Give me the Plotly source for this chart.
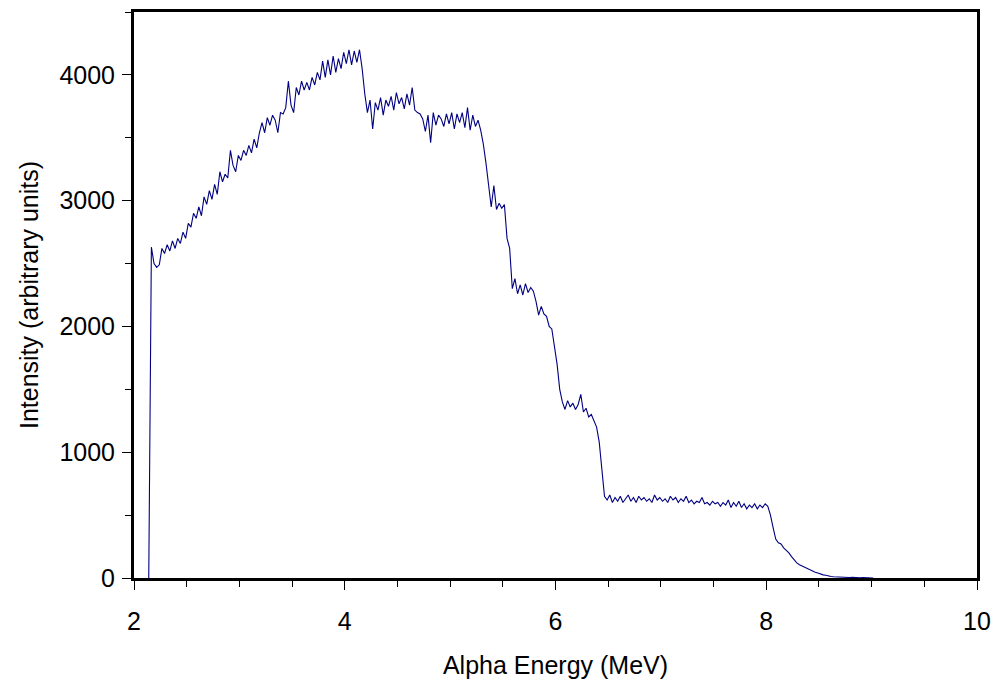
import plotly.graph_objects as go

# Channel calibration (MeV)
energy_start = 2.14
energy_step = 0.025

intensity = [
    0, 2630, 2500, 2470, 2490, 2620, 2580, 2650, 2600, 2680,
    2620, 2700, 2660, 2750, 2700, 2820, 2790, 2900, 2860, 2950,
    2880, 3030, 2970, 3080, 3010, 3130, 3050, 3230, 3150, 3210,
    3180, 3400, 3280, 3230, 3360, 3320, 3400, 3360, 3440, 3380,
    3490, 3420, 3540, 3620, 3540, 3660, 3600, 3680, 3640, 3540,
    3700, 3690, 3740, 3950, 3760, 3700, 3900, 3840, 3950, 3880,
    3940, 3880, 3980, 3920, 4020, 3960, 4110, 3980, 4120, 4000,
    4150, 4020, 4130, 4050, 4180, 4090, 4200, 4080, 4190, 4100,
    4200, 4050, 3850, 3700, 3800, 3570, 3780, 3720, 3820, 3680,
    3800, 3750, 3830, 3720, 3860, 3770, 3820, 3730, 3850, 3760,
    3900, 3720, 3700, 3690, 3650, 3550, 3680, 3460, 3700, 3600,
    3680, 3650, 3590, 3690, 3610, 3700, 3570, 3690, 3620, 3700,
    3580, 3740, 3560, 3680, 3590, 3640, 3560, 3450, 3300, 3100,
    2950, 3120, 2930, 2980, 2940, 2970, 2700, 2620, 2300, 2380,
    2260, 2330, 2250, 2340, 2270, 2310, 2280, 2200, 2090, 2160,
    2100, 2080, 2000, 1980, 1850, 1700, 1500, 1400, 1340, 1410,
    1360, 1390, 1340, 1380, 1460, 1320, 1350, 1280, 1300, 1250,
    1200, 1080, 850, 650, 620, 660, 600, 640, 610, 650,
    600, 630, 660, 610, 640, 600, 650, 620, 640, 610,
    630, 600, 660, 620, 640, 610, 630, 600, 650, 620,
    640, 600, 630, 610, 650, 600, 620, 590, 610, 600,
    640, 590, 600, 580, 610, 590, 600, 570, 600, 580,
    620, 560, 600, 570, 610, 560, 590, 550, 580, 560,
    590, 550, 580, 560, 590, 570, 500, 400, 310, 280,
    270, 240, 220, 200, 170, 140, 120, 105, 95, 80,
    75, 60, 55, 45, 40, 30, 25, 22, 15, 12,
    10, 8, 7, 6, 5, 5, 4, 6, 3, 5,
    2, 4, 2, 3, 1, 0,
]
energy = [round(energy_start + energy_step * i, 4) for i in range(len(intensity))]

x_ticks = [2, 4, 6, 8, 10]
y_ticks = [0, 1000, 2000, 3000, 4000]

FONT = "Liberation Sans, Arial, sans-serif"

fig = go.Figure()
fig.add_trace(go.Scatter(
    x=energy, y=intensity, mode="lines",
    line=dict(color="#000080", width=1.1),
    showlegend=False, hoverinfo="skip",
))

fig.update_layout(
    width=995, height=682,
    margin=dict(l=134, r=18, t=12, b=104, autoexpand=False),
    paper_bgcolor="white", plot_bgcolor="white",
    font=dict(family=FONT, size=25, color="black"),
    xaxis=dict(
        range=[2, 10], tickvals=x_ticks, ticks="outside", ticklen=9,
        tickwidth=1, tickcolor="black",
        minor=dict(dtick=0.5, ticks="outside", ticklen=6, tickcolor="black", tickwidth=1),
        showline=True, linecolor="black", linewidth=3, mirror=True,
        showgrid=False, zeroline=False, automargin=False,
        ticklabelstandoff=10,
        title=dict(text="Alpha Energy (MeV)", standoff=23, font=dict(size=25)),
    ),
    yaxis=dict(
        range=[0, 4500], tickvals=y_ticks, ticks="outside", ticklen=9,
        tickwidth=1, tickcolor="black",
        minor=dict(dtick=500, ticks="outside", ticklen=6, tickcolor="black", tickwidth=1),
        showline=True, linecolor="black", linewidth=3, mirror=True,
        showgrid=False, zeroline=False, automargin=False,
        ticklabelstandoff=2,
        title=dict(text="Intensity (arbitrary units)", standoff=14, font=dict(size=25)),
    ),
    xaxis2=dict(
        overlaying="x", matches="x", anchor="y", range=[2, 10], tickvals=x_ticks,
        ticks="inside", ticklen=9, tickwidth=1, tickcolor="black", automargin=False,
        showticklabels=False, showline=False, showgrid=False, zeroline=False, side="bottom",
    ),
    yaxis2=dict(
        overlaying="y", matches="y", anchor="x", range=[0, 4500], tickvals=y_ticks,
        ticks="inside", ticklen=9, tickwidth=1, tickcolor="black", automargin=False,
        showticklabels=False, showline=False, showgrid=False, zeroline=False, side="left",
    ),
)

fig.write_html(
    "out.html",
    config={"displayModeBar": False, "staticPlot": True},
    post_script="document.body.style.margin='0px';",
)
